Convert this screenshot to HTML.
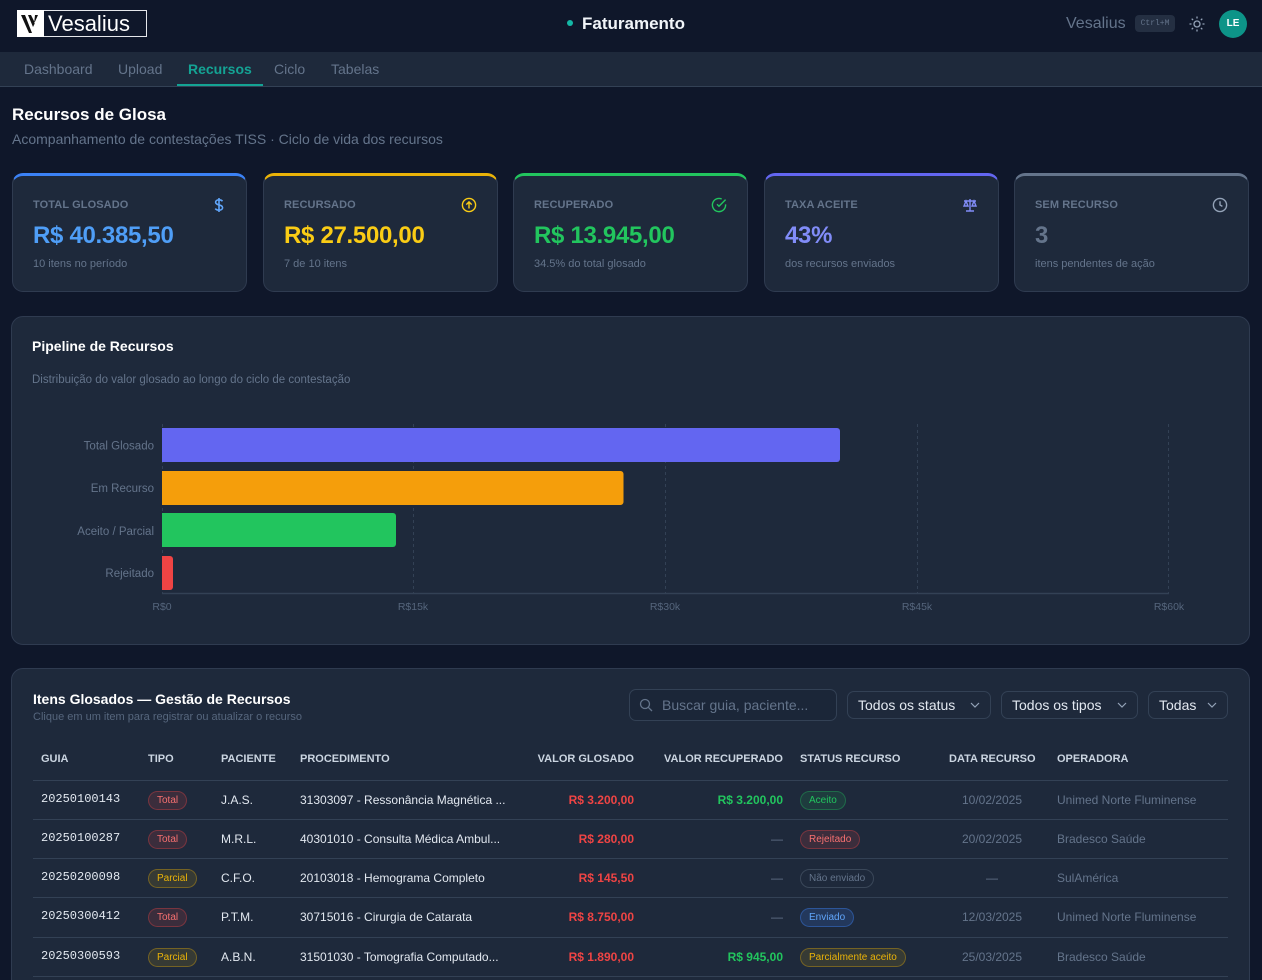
<!DOCTYPE html>
<html><head><meta charset="utf-8">
<style>
*{margin:0;padding:0;box-sizing:border-box}
html,body{width:1262px;height:980px;overflow:hidden;background:#0f172a;font-family:"Liberation Sans",sans-serif;color:#e2e8f0}
#wrap{position:relative;width:1262px;height:980px;overflow:hidden}
.a{position:absolute;white-space:nowrap}
.nav{position:absolute;top:52px;left:0;width:1262px;height:35px;background:#1e293b;border-bottom:1px solid #334155}
.nv{position:absolute;top:61px;font-size:14px;line-height:16px;color:#64748b}
.card{position:absolute;top:173px;width:235px;height:119px;background:#1e293b;border:1px solid #2f3b50;border-radius:11px;border-top-width:3px}
.lab{position:absolute;left:20px;top:23px;font-size:11px;font-weight:bold;color:#64748b;letter-spacing:.1px}
.val{position:absolute;left:20px;top:46px;font-size:24px;font-weight:bold;line-height:28px;letter-spacing:-.3px}
.sub{position:absolute;left:20px;top:82px;font-size:11px;color:#64748b}
.ic{position:absolute;right:20px;top:21px}
.panel{position:absolute;background:#1e293b;border:1px solid #2f3b50;border-radius:12px}
.th{position:absolute;top:753px;font-size:11px;font-weight:bold;color:#cbd5e1;line-height:13px}
.c{position:absolute;height:16px;line-height:16px;font-size:12px;white-space:nowrap;color:#e2e8f0}
.m{font-family:"Liberation Mono",monospace;font-size:12px}
.r{text-align:right}
.red{color:#ef4444;font-weight:bold}
.grn{color:#22c55e;font-weight:bold}
.mut{color:#64748b}
.bd{position:absolute;height:19px;line-height:17px;font-size:10px;border-radius:10px;padding:0 8px;border:1px solid;white-space:nowrap}
.bR{color:#f87171;background:rgba(239,68,68,.14);border-color:rgba(239,68,68,.35)}
.bY{color:#eab308;background:rgba(234,179,8,.12);border-color:rgba(234,179,8,.35)}
.bG{color:#22c55e;background:rgba(34,197,94,.12);border-color:rgba(34,197,94,.35)}
.bB{color:#60a5fa;background:rgba(59,130,246,.18);border-color:rgba(59,130,246,.4)}
.bS{color:#64748b;background:transparent;border-color:#3a4759}
.ln{position:absolute;left:33px;width:1195px;height:1px;background:#334155}
.sel{position:absolute;top:691px;height:28px;border:1px solid #334155;border-radius:7px;background:#1e293b;font-size:14px;line-height:26px;color:#e2e8f0;padding-left:10px}
.sel svg{position:absolute;right:10px;top:9px}
</style></head><body><div id="wrap">

<!-- header -->
<div class="a" style="left:17px;top:10px;width:130px;height:27px;border:1px solid #e5e7eb;background:#0f172a"></div>
<div class="a" style="left:17px;top:10px;width:27px;height:27px;background:#fff"></div>
<svg class="a" style="left:19px;top:12px" width="24" height="24" viewBox="0 0 24 24"><path d="M2 3 L10 21 L13 21 L6 3Z M9 3 L14 15 L16 11 L12 3Z M16 3 L19 3 L15 12Z" fill="#111"/></svg>
<div class="a" style="left:48px;top:10px;font-size:22px;line-height:27px;color:#fff">Vesalius</div>

<div class="a" style="left:567px;top:20px;width:6px;height:6px;border-radius:3px;background:#14b8a6"></div>
<div class="a" style="left:582px;top:13px;font-size:17px;font-weight:bold;line-height:22px;color:#f1f5f9">Faturamento</div>

<div class="a" style="left:1066px;top:14px;font-size:16px;line-height:20px;color:#64748b">Vesalius</div>
<div class="a" style="left:1135px;top:15px;width:40px;height:17px;border-radius:4px;background:#242f42;font-family:'Liberation Mono',monospace;font-size:8px;line-height:17px;text-align:center;color:#64748b">Ctrl+M</div>
<svg class="a" style="left:1188px;top:15px" width="18" height="18" viewBox="0 0 18 18" fill="none" stroke="#94a3b8" stroke-width="1.3"><circle cx="9" cy="9" r="3"/><path d="M9 1.5v2M9 14.5v2M1.5 9h2M14.5 9h2M3.7 3.7l1.4 1.4M12.9 12.9l1.4 1.4M3.7 14.3l1.4-1.4M12.9 5.1l1.4-1.4"/></svg>
<div class="a" style="left:1219px;top:10px;width:28px;height:28px;border-radius:14px;background:#0d9488;color:#fff;font-size:10px;font-weight:bold;line-height:28px;text-align:center">LE</div>

<!-- nav -->
<div class="nav"></div>
<div class="nv" style="left:24px">Dashboard</div>
<div class="nv" style="left:118px">Upload</div>
<div class="nv" style="left:188px;color:#14a394;font-weight:bold">Recursos</div>
<div class="a" style="left:177px;top:84px;width:86px;height:2px;background:#14a394"></div>
<div class="nv" style="left:274px">Ciclo</div>
<div class="nv" style="left:331px">Tabelas</div>

<div class="a" style="left:12px;top:104px;font-size:17px;font-weight:bold;line-height:22px;color:#fff">Recursos de Glosa</div>
<div class="a" style="left:12px;top:131px;font-size:14px;line-height:17px;color:#64748b">Acompanhamento de contestações TISS · Ciclo de vida dos recursos</div>

<!-- KPI cards -->
<div class="card" style="left:12px;border-top-color:#3b82f6">
 <div class="lab">TOTAL GLOSADO</div>
 <svg class="ic" width="14" height="16" viewBox="0 0 14 16"><path d="M7 1v14M10.5 4.2C9.8 3.3 8.6 2.8 7 2.8 5 2.8 3.6 3.8 3.6 5.3c0 3.5 7 1.8 7 5.3 0 1.5-1.5 2.6-3.6 2.6-1.7 0-3-.6-3.7-1.6" fill="none" stroke="#60a5fa" stroke-width="1.6"/></svg>
 <div class="val" style="color:#4f9ef7">R$ 40.385,50</div>
 <div class="sub">10 itens no período</div>
</div>
<div class="card" style="left:263px;border-top-color:#eab308">
 <div class="lab">RECURSADO</div>
 <svg class="ic" width="16" height="16" viewBox="0 0 16 16" fill="none" stroke="#facc15" stroke-width="1.4"><circle cx="8" cy="8" r="6.6"/><path d="M8 11.5V5M5.3 7.6L8 4.9l2.7 2.7"/></svg>
 <div class="val" style="color:#facc15">R$ 27.500,00</div>
 <div class="sub">7 de 10 itens</div>
</div>
<div class="card" style="left:513px;border-top-color:#22c55e">
 <div class="lab">RECUPERADO</div>
 <svg class="ic" width="16" height="16" viewBox="0 0 16 16" fill="none" stroke="#22c55e" stroke-width="1.4"><path d="M14.6 7.4V8a6.6 6.6 0 1 1-3.9-6"/><path d="M14.6 2.6L8 9.3 6 7.3"/></svg>
 <div class="val" style="color:#22c55e">R$ 13.945,00</div>
 <div class="sub">34.5% do total glosado</div>
</div>
<div class="card" style="left:764px;border-top-color:#6366f1">
 <div class="lab">TAXA ACEITE</div>
 <svg class="ic" width="16" height="16" viewBox="0 0 16 16" fill="none" stroke="#818cf8" stroke-width="1.4"><path d="M8 2v12M4 14h8M2 4h12M4 4l-2 5h4zM12 4l-2 5h4z"/></svg>
 <div class="val" style="color:#818cf8">43%</div>
 <div class="sub">dos recursos enviados</div>
</div>
<div class="card" style="left:1014px;border-top-color:#64748b">
 <div class="lab">SEM RECURSO</div>
 <svg class="ic" width="16" height="16" viewBox="0 0 16 16" fill="none" stroke="#94a3b8" stroke-width="1.4"><circle cx="8" cy="8" r="6.6"/><path d="M8 4.2V8l2.4 1.4"/></svg>
 <div class="val" style="color:#64748b">3</div>
 <div class="sub">itens pendentes de ação</div>
</div>

<!-- chart panel -->
<div class="panel" style="left:11px;top:316px;width:1239px;height:329px"></div>
<div class="a" style="left:32px;top:338px;font-size:14px;font-weight:bold;line-height:17px;color:#fff">Pipeline de Recursos</div>
<div class="a" style="left:32px;top:373px;font-size:11.5px;line-height:14px;color:#64748b">Distribuição do valor glosado ao longo do ciclo de contestação</div>
<svg class="a" style="left:0;top:0" width="1262" height="660">
 <g stroke="#334155" stroke-width="1" stroke-dasharray="3 3">
  <line x1="162.5" y1="424" x2="162.5" y2="593"/>
  <line x1="413.5" y1="424" x2="413.5" y2="593"/>
  <line x1="665.5" y1="424" x2="665.5" y2="593"/>
  <line x1="917.5" y1="424" x2="917.5" y2="593"/>
  <line x1="1168.5" y1="424" x2="1168.5" y2="593"/>
 </g>
 <line x1="162" y1="593.5" x2="1169" y2="593.5" stroke="#334155" stroke-width="1.5"/>
 <path d="M162 428H837a3 3 0 0 1 3 3V459a3 3 0 0 1-3 3H162Z" fill="#6366f1"/>
 <path d="M162 471H620.5a3 3 0 0 1 3 3V502a3 3 0 0 1-3 3H162Z" fill="#f59e0b"/>
 <path d="M162 513H393a3 3 0 0 1 3 3V544a3 3 0 0 1-3 3H162Z" fill="#22c55e"/>
 <path d="M162 556H170a3 3 0 0 1 3 3V587a3 3 0 0 1-3 3H162Z" fill="#ef4444"/>
 <g font-family="Liberation Sans, sans-serif" font-size="11.5" fill="#64748b" text-anchor="end">
  <text x="154" y="449.5">Total Glosado</text>
  <text x="154" y="492">Em Recurso</text>
  <text x="154" y="535">Aceito / Parcial</text>
  <text x="154" y="577">Rejeitado</text>
 </g>
 <g font-family="Liberation Sans, sans-serif" font-size="10.5" fill="#55657c" text-anchor="middle">
  <text x="162" y="610">R$0</text>
  <text x="413" y="610">R$15k</text>
  <text x="665" y="610">R$30k</text>
  <text x="917" y="610">R$45k</text>
  <text x="1169" y="610">R$60k</text>
 </g>
</svg>

<!-- table panel -->
<div class="panel" style="left:11px;top:668px;width:1239px;height:340px"></div>
<div class="a" style="left:33px;top:691px;font-size:14px;font-weight:bold;line-height:17px;color:#fff">Itens Glosados — Gestão de Recursos</div>
<div class="a" style="left:33px;top:711px;font-size:11px;line-height:13px;color:#56667d">Clique em um item para registrar ou atualizar o recurso</div>

<div class="sel" style="left:629px;top:689px;width:208px;height:32px;line-height:30px;padding-left:32px;color:#64748b;background:#1b2638">Buscar guia, paciente...</div>
<svg class="a" style="left:639px;top:698px" width="14" height="14" viewBox="0 0 14 14" fill="none" stroke="#64748b" stroke-width="1.3"><circle cx="6" cy="6" r="4.5"/><path d="M9.4 9.4L13 13"/></svg>
<div class="sel" style="left:847px;width:144px">Todos os status<svg width="10" height="8" viewBox="0 0 10 8"><path d="M1 2l4 4 4-4" fill="none" stroke="#94a3b8" stroke-width="1.2"/></svg></div>
<div class="sel" style="left:1001px;width:137px">Todos os tipos<svg width="10" height="8" viewBox="0 0 10 8"><path d="M1 2l4 4 4-4" fill="none" stroke="#94a3b8" stroke-width="1.2"/></svg></div>
<div class="sel" style="left:1148px;width:80px">Todas<svg width="10" height="8" viewBox="0 0 10 8"><path d="M1 2l4 4 4-4" fill="none" stroke="#94a3b8" stroke-width="1.2"/></svg></div>

<div class="th" style="left:41px">GUIA</div>
<div class="th" style="left:148px">TIPO</div>
<div class="th" style="left:221px">PACIENTE</div>
<div class="th" style="left:300px">PROCEDIMENTO</div>
<div class="th" style="left:534px;width:100px;text-align:right">VALOR GLOSADO</div>
<div class="th" style="left:643px;width:140px;text-align:right">VALOR RECUPERADO</div>
<div class="th" style="left:800px">STATUS RECURSO</div>
<div class="th" style="left:949px">DATA RECURSO</div>
<div class="th" style="left:1057px">OPERADORA</div>
<div class="ln" style="top:780px"></div>

<!-- row 1 -->
<div class="c m" style="left:41px;top:791px">20250100143</div>
<div class="bd bR" style="left:148px;top:791px">Total</div>
<div class="c" style="left:221px;top:792px">J.A.S.</div>
<div class="c" style="left:300px;top:792px">31303097 - Ressonância Magnética ...</div>
<div class="c r red" style="left:514px;width:120px;top:792px">R$ 3.200,00</div>
<div class="c r grn" style="left:663px;width:120px;top:792px">R$ 3.200,00</div>
<div class="bd bG" style="left:800px;top:791px">Aceito</div>
<div class="c mut" style="left:942px;width:100px;text-align:center;top:792px">10/02/2025</div>
<div class="c mut" style="left:1057px;top:792px">Unimed Norte Fluminense</div>
<div class="ln" style="top:819px"></div>

<!-- row 2 -->
<div class="c m" style="left:41px;top:830px">20250100287</div>
<div class="bd bR" style="left:148px;top:830px">Total</div>
<div class="c" style="left:221px;top:831px">M.R.L.</div>
<div class="c" style="left:300px;top:831px">40301010 - Consulta Médica Ambul...</div>
<div class="c r red" style="left:514px;width:120px;top:831px">R$ 280,00</div>
<div class="c r mut" style="left:663px;width:120px;top:831px">—</div>
<div class="bd bR" style="left:800px;top:830px">Rejeitado</div>
<div class="c mut" style="left:942px;width:100px;text-align:center;top:831px">20/02/2025</div>
<div class="c mut" style="left:1057px;top:831px">Bradesco Saúde</div>
<div class="ln" style="top:858px"></div>

<!-- row 3 -->
<div class="c m" style="left:41px;top:869px">20250200098</div>
<div class="bd bY" style="left:148px;top:869px">Parcial</div>
<div class="c" style="left:221px;top:870px">C.F.O.</div>
<div class="c" style="left:300px;top:870px">20103018 - Hemograma Completo</div>
<div class="c r red" style="left:514px;width:120px;top:870px">R$ 145,50</div>
<div class="c r mut" style="left:663px;width:120px;top:870px">—</div>
<div class="bd bS" style="left:800px;top:869px">Não enviado</div>
<div class="c mut" style="left:942px;width:100px;text-align:center;top:870px">—</div>
<div class="c mut" style="left:1057px;top:870px">SulAmérica</div>
<div class="ln" style="top:897px"></div>

<!-- row 4 -->
<div class="c m" style="left:41px;top:908px">20250300412</div>
<div class="bd bR" style="left:148px;top:908px">Total</div>
<div class="c" style="left:221px;top:909px">P.T.M.</div>
<div class="c" style="left:300px;top:909px">30715016 - Cirurgia de Catarata</div>
<div class="c r red" style="left:514px;width:120px;top:909px">R$ 8.750,00</div>
<div class="c r mut" style="left:663px;width:120px;top:909px">—</div>
<div class="bd bB" style="left:800px;top:908px">Enviado</div>
<div class="c mut" style="left:942px;width:100px;text-align:center;top:909px">12/03/2025</div>
<div class="c mut" style="left:1057px;top:909px">Unimed Norte Fluminense</div>
<div class="ln" style="top:937px"></div>

<!-- row 5 -->
<div class="c m" style="left:41px;top:948px">20250300593</div>
<div class="bd bY" style="left:148px;top:948px">Parcial</div>
<div class="c" style="left:221px;top:949px">A.B.N.</div>
<div class="c" style="left:300px;top:949px">31501030 - Tomografia Computado...</div>
<div class="c r red" style="left:514px;width:120px;top:949px">R$ 1.890,00</div>
<div class="c r grn" style="left:663px;width:120px;top:949px">R$ 945,00</div>
<div class="bd bY" style="left:800px;top:948px">Parcialmente aceito</div>
<div class="c mut" style="left:942px;width:100px;text-align:center;top:949px">25/03/2025</div>
<div class="c mut" style="left:1057px;top:949px">Bradesco Saúde</div>
<div class="ln" style="top:976px"></div>

</div></body></html>
